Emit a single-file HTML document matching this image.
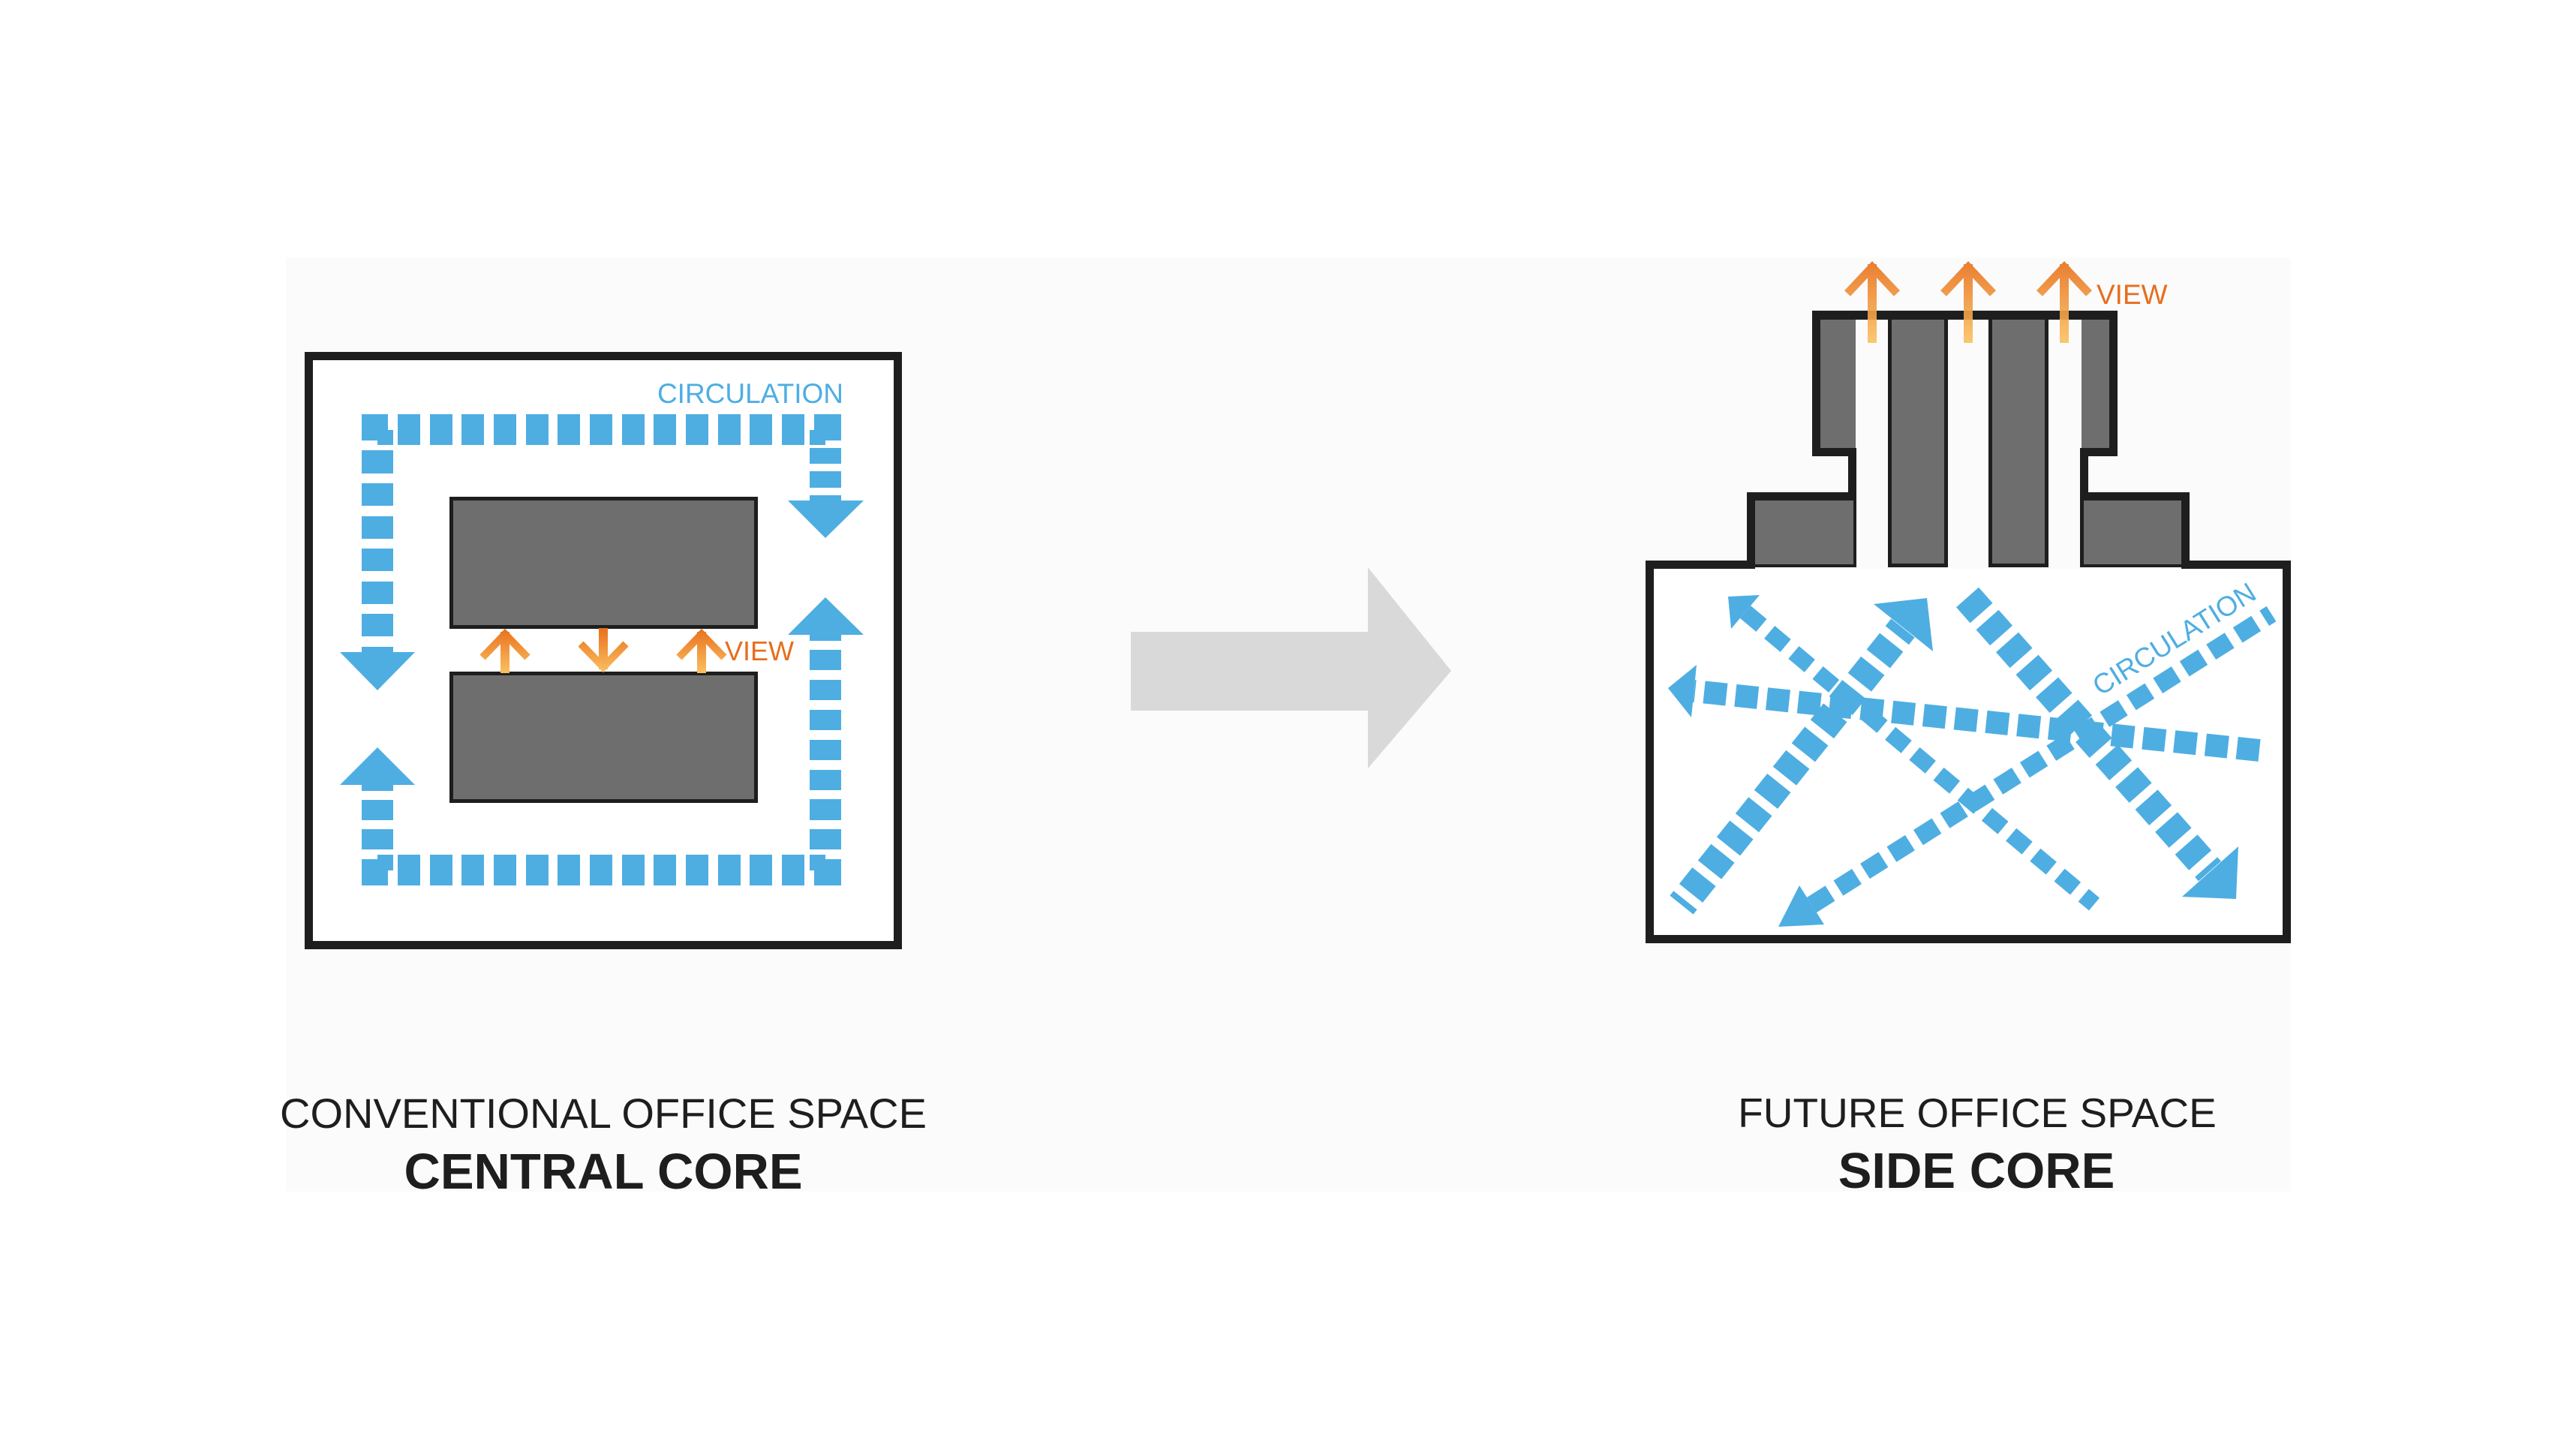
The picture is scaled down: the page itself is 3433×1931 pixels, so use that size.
<!DOCTYPE html>
<html>
<head>
<meta charset="utf-8">
<style>
html,body{margin:0;padding:0;background:#ffffff;}
svg{display:block;}
text{font-family:"Liberation Sans",Arial,sans-serif;}
</style>
</head>
<body>
<svg width="3433" height="1931" viewBox="0 0 3433 1931" xmlns="http://www.w3.org/2000/svg">
<defs>
  <linearGradient id="gL" gradientUnits="userSpaceOnUse" x1="0" y1="837" x2="0" y2="897">
    <stop offset="0" stop-color="#e8701c"/>
    <stop offset="1" stop-color="#fbc062"/>
  </linearGradient>
  <linearGradient id="gR" gradientUnits="userSpaceOnUse" x1="0" y1="348" x2="0" y2="457">
    <stop offset="0" stop-color="#e8701c"/>
    <stop offset="1" stop-color="#fbc264"/>
  </linearGradient>
</defs>

<!-- faint background panel -->
<rect x="381" y="343" width="2672" height="1245" fill="#fbfbfb"/>

<!-- ================= LEFT DIAGRAM ================= -->
<rect x="411.5" y="474.5" width="785" height="785" fill="#ffffff" stroke="#1e1e1e" stroke-width="11"/>

<!-- gray blocks -->
<rect x="601.5" y="664.5" width="406" height="171" fill="#6f6e6f" stroke="#1e1e1e" stroke-width="5"/>
<rect x="601.5" y="897.5" width="406" height="170" fill="#6f6e6f" stroke="#1e1e1e" stroke-width="5"/>

<g fill="#4eaee2">
  <!-- top row -->
  <rect x="530" y="552" width="30" height="41"/>
  <rect x="573" y="552" width="30" height="41"/>
  <rect x="615" y="552" width="30" height="41"/>
  <rect x="658" y="552" width="30" height="41"/>
  <rect x="701" y="552" width="30" height="41"/>
  <rect x="743" y="552" width="30" height="41"/>
  <rect x="786" y="552" width="30" height="41"/>
  <rect x="829" y="552" width="30" height="41"/>
  <rect x="871" y="552" width="30" height="41"/>
  <rect x="914" y="552" width="30" height="41"/>
  <rect x="957" y="552" width="30" height="41"/>
  <rect x="999" y="552" width="30" height="41"/>
  <rect x="1042" y="552" width="30" height="41"/>
  <!-- bottom row -->
  <rect x="530" y="1139" width="30" height="41"/>
  <rect x="573" y="1139" width="30" height="41"/>
  <rect x="615" y="1139" width="30" height="41"/>
  <rect x="658" y="1139" width="30" height="41"/>
  <rect x="701" y="1139" width="30" height="41"/>
  <rect x="743" y="1139" width="30" height="41"/>
  <rect x="786" y="1139" width="30" height="41"/>
  <rect x="829" y="1139" width="30" height="41"/>
  <rect x="871" y="1139" width="30" height="41"/>
  <rect x="914" y="1139" width="30" height="41"/>
  <rect x="957" y="1139" width="30" height="41"/>
  <rect x="999" y="1139" width="30" height="41"/>
  <rect x="1042" y="1139" width="30" height="41"/>
  <!-- corners -->
  <rect x="482" y="552" width="35" height="35"/>
  <rect x="503" y="573" width="21" height="20"/>
  <rect x="1085" y="552" width="36" height="35"/>
  <rect x="1079" y="573" width="21" height="20"/>
  <rect x="482" y="1145" width="35" height="35"/>
  <rect x="503" y="1139" width="21" height="21"/>
  <rect x="1085" y="1145" width="36" height="35"/>
  <rect x="1079" y="1139" width="21" height="21"/>
  <!-- left column down -->
  <rect x="482" y="600" width="42" height="31"/>
  <rect x="482" y="644" width="42" height="30"/>
  <rect x="482" y="688" width="42" height="30"/>
  <rect x="482" y="731" width="42" height="30"/>
  <rect x="482" y="775" width="42" height="30"/>
  <rect x="482" y="818" width="42" height="30"/>
  <rect x="482" y="862" width="42" height="8"/>
  <polygon points="453,869 553,869 503,920"/>
  <!-- left column up (bottom) -->
  <rect x="482" y="1105" width="42" height="27"/>
  <rect x="482" y="1066" width="42" height="27"/>
  <rect x="482" y="1045" width="42" height="9"/>
  <polygon points="453,1046 553,1046 503,996"/>
  <!-- right column down (top) -->
  <rect x="1079" y="597" width="42" height="21"/>
  <rect x="1079" y="628" width="42" height="22"/>
  <rect x="1079" y="660" width="42" height="8"/>
  <polygon points="1050,667 1151,667 1100,717"/>
  <!-- right column up -->
  <polygon points="1050,846 1151,846 1100,796"/>
  <rect x="1079" y="845" width="42" height="9"/>
  <rect x="1079" y="866" width="42" height="27"/>
  <rect x="1079" y="906" width="42" height="27"/>
  <rect x="1079" y="946" width="42" height="27"/>
  <rect x="1079" y="986" width="42" height="27"/>
  <rect x="1079" y="1026" width="42" height="27"/>
  <rect x="1079" y="1065" width="42" height="28"/>
  <rect x="1079" y="1105" width="42" height="27"/>
</g>

<text x="1124" y="537" font-size="37" fill="#4eaee2" text-anchor="end">CIRCULATION</text>

<!-- orange view arrows left -->
<g fill="none" stroke="url(#gL)" stroke-linecap="butt" stroke-linejoin="miter" stroke-miterlimit="10">
  <line x1="673" y1="842" x2="673" y2="897" stroke-width="12"/>
  <polyline points="643,876 673,845 703,876" stroke-width="10"/>
  <line x1="804" y1="837" x2="804" y2="892" stroke-width="12"/>
  <polyline points="774,858 804,889 834,858" stroke-width="10"/>
  <line x1="935" y1="842" x2="935" y2="897" stroke-width="12"/>
  <polyline points="905,876 935,845 965,876" stroke-width="10"/>
</g>
<text x="966" y="880" font-size="36" fill="#e66e1e">VIEW</text>

<!-- ================= CENTER ARROW ================= -->
<polygon points="1507,842 1823,842 1823,756 1934,894 1823,1024 1823,947 1507,947" fill="#dad9da"/>

<!-- ================= RIGHT DIAGRAM ================= -->
<rect x="2204" y="758" width="838" height="488" fill="#ffffff"/>
<g fill="#1e1e1e">
  <!-- main box -->
  <rect x="2193" y="747" width="11" height="510"/>
  <rect x="3042" y="747" width="11" height="510"/>
  <rect x="2193" y="1246" width="860" height="11"/>
  <rect x="2193" y="747" width="146" height="11"/>
  <rect x="2907" y="747" width="146" height="11"/>
  <!-- lower-left block borders -->
  <rect x="2328" y="656" width="11" height="102"/>
  <rect x="2328" y="656" width="146" height="11"/>
  <rect x="2470" y="656" width="4" height="100"/>
  <rect x="2339" y="752" width="135" height="4"/>
  <rect x="2463" y="597" width="11" height="70"/>
  <!-- tower left -->
  <rect x="2415" y="414" width="11" height="194"/>
  <rect x="2415" y="597" width="59" height="11"/>
  <rect x="2415" y="414" width="407" height="12"/>
  <!-- columns -->
  <rect x="2516" y="426" width="80" height="330"/>
  <rect x="2650" y="426" width="80" height="330"/>
  <!-- tower right -->
  <rect x="2811" y="414" width="11" height="194"/>
  <rect x="2772" y="597" width="50" height="11"/>
  <rect x="2772" y="597" width="11" height="70"/>
  <!-- lower-right block -->
  <rect x="2772" y="656" width="146" height="11"/>
  <rect x="2907" y="656" width="11" height="102"/>
  <rect x="2772" y="656" width="5" height="100"/>
  <rect x="2772" y="752" width="139" height="4"/>
</g>
<g fill="#6f6e6f">
  <rect x="2339" y="667" width="131" height="85"/>
  <rect x="2426" y="426" width="47" height="171"/>
  <rect x="2521" y="426" width="70" height="325"/>
  <rect x="2655" y="426" width="70" height="325"/>
  <rect x="2774" y="426" width="37" height="171"/>
  <rect x="2777" y="667" width="130" height="85"/>
</g>

<!-- blue circulation arrows -->
<g fill="none" stroke="#4eaee2" stroke-linecap="butt">
  <line x1="2241" y1="1206" x2="2536" y2="837" stroke-width="40" stroke-dasharray="28 12" stroke-dashoffset="20"/>
  <line x1="2622" y1="796" x2="2945" y2="1161" stroke-width="40" stroke-dasharray="28 12"/>
  <line x1="2326" y1="815.5" x2="2791" y2="1205" stroke-width="22" stroke-dasharray="28 14"/>
  <line x1="3011" y1="1000" x2="2257.5" y2="921" stroke-width="30" stroke-dasharray="30 12"/>
  <line x1="2414.5" y1="1206" x2="3027" y2="818" stroke-width="24" stroke-dasharray="29 13"/>
</g>
<g fill="#4eaee2">
  <polygon points="2568,797 2497,805 2576,868"/>
  <polygon points="2980,1198 2983,1128 2908,1195"/>
  <polygon points="2303,795 2345,793 2307,838"/>
  <polygon points="2223,917 2261,886 2254,956"/>
  <polygon points="2370,1235 2398,1180 2431,1232"/>
</g>
<text x="2799" y="928" font-size="37" fill="#4eaee2" transform="rotate(-32 2799 928)">CIRCULATION</text>

<!-- orange view arrows right -->
<g fill="none" stroke="url(#gR)" stroke-linecap="butt" stroke-linejoin="miter" stroke-miterlimit="10" opacity="0.9">
  <line x1="2495" y1="352" x2="2495" y2="457" stroke-width="12"/>
  <polyline points="2462,391 2495,356 2528,391" stroke-width="11"/>
  <line x1="2623" y1="352" x2="2623" y2="457" stroke-width="12"/>
  <polyline points="2590,391 2623,356 2656,391" stroke-width="11"/>
  <line x1="2751" y1="352" x2="2751" y2="457" stroke-width="12"/>
  <polyline points="2718,391 2751,356 2784,391" stroke-width="11"/>
</g>
<text x="2794" y="405" font-size="37" fill="#e66e1e">VIEW</text>

<!-- ================= LABELS ================= -->
<text x="804" y="1503" font-size="56" fill="#1e1e1e" text-anchor="middle">CONVENTIONAL OFFICE SPACE</text>
<text x="804" y="1584" font-size="67" font-weight="bold" fill="#1e1e1e" text-anchor="middle">CENTRAL CORE</text>
<text x="2635" y="1502" font-size="55" fill="#1e1e1e" text-anchor="middle">FUTURE OFFICE SPACE</text>
<text x="2634" y="1583" font-size="67" font-weight="bold" fill="#1e1e1e" text-anchor="middle">SIDE CORE</text>
</svg>
</body>
</html>
